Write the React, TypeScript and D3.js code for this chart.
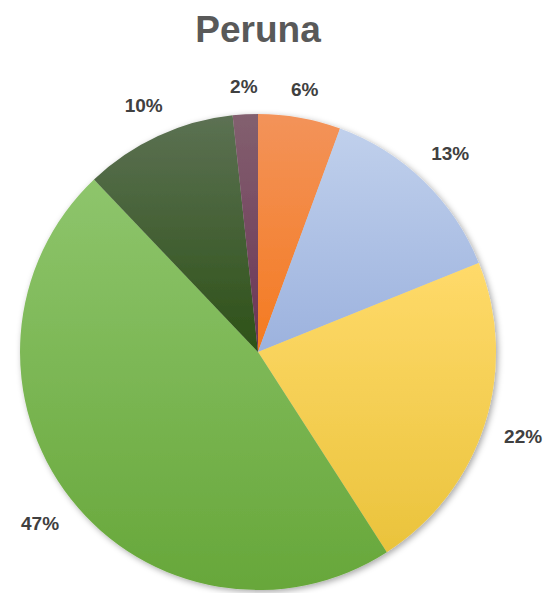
import React, { useEffect, useRef } from 'react';
import * as d3 from 'd3';

const title = 'Peruna';
const categories = ['A', 'B', 'C', 'D', 'E', 'F'];
const values = [5.6, 13.3, 22.0, 47.0, 10.4, 1.7];
const topColors = ['#F3935A', '#C0D0EC', '#FFDA6A', '#8EC56C', '#5C7153', '#83606F'];
const bottomColors = ['#F47A20', '#9CB2DE', '#EAC33C', '#67A73A', '#2D5117', '#6A3456'];

const App = () => {
  const svgRef = useRef<SVGSVGElement>(null);

  useEffect(() => {
    const width = 552;
    const height = 593;
    const cx = 258;
    const cy = 352;
    const r = 238;
    const fontSize = 19;

    const svg = d3.select(svgRef.current)
      .attr('width', width)
      .attr('height', height);
    svg.selectAll('*').remove();

    const defs = svg.append('defs');
    const filter = defs.append('filter')
      .attr('id', 'shadow')
      .attr('x', '-10%').attr('y', '-10%')
      .attr('width', '120%').attr('height', '120%');
    filter.append('feDropShadow')
      .attr('dx', 2).attr('dy', 2)
      .attr('stdDeviation', 3)
      .attr('flood-color', '#000')
      .attr('flood-opacity', 0.35);

    categories.forEach((c, i) => {
      const g = defs.append('linearGradient')
        .attr('id', `grad-${i}`)
        .attr('x1', 0).attr('y1', 0).attr('x2', 0).attr('y2', 1);
      g.append('stop').attr('offset', '0%').attr('stop-color', topColors[i]);
      g.append('stop').attr('offset', '100%').attr('stop-color', bottomColors[i]);
    });

    const pie = d3.pie<number>().sort(null).value(d => d);
    const arcs = pie(values);
    const arc = d3.arc<d3.PieArcDatum<number>>().innerRadius(0).outerRadius(r);

    svg.append('text')
      .attr('x', cx)
      .attr('y', 42)
      .attr('text-anchor', 'middle')
      .attr('font-family', 'Liberation Sans, Arial, sans-serif')
      .attr('font-weight', 'bold')
      .attr('font-size', 37)
      .attr('fill', '#595959')
      .text(title);

    const g = svg.append('g')
      .attr('transform', `translate(${cx},${cy})`);

    g.append('g')
      .attr('filter', 'url(#shadow)')
      .selectAll('path')
      .data(arcs)
      .join('path')
      .attr('d', arc)
      .attr('fill', (d, i) => `url(#grad-${i})`);

    const total = d3.sum(values);
    const labels = g.append('g')
      .attr('font-family', 'Liberation Sans, Arial, sans-serif')
      .attr('font-weight', 'bold')
      .attr('font-size', fontSize)
      .attr('fill', '#404040');

    arcs.forEach(d => {
      const txt = `${Math.round((d.data / total) * 100)}%`;
      const a = (d.startAngle + d.endAngle) / 2;
      const sx = Math.sin(a);
      const sy = -Math.cos(a);
      const t = labels.append('text')
        .attr('dy', '0.35em')
        .attr('text-anchor', 'middle')
        .text(txt);
      const w = (t.node() as SVGTextElement).getComputedTextLength();
      const h = fontSize * 0.72;
      const ext = Math.abs(sx) * w / 2 + Math.abs(sy) * h / 2;
      const rr = r + 20 + ext;
      t.attr('x', sx * rr).attr('y', sy * rr);
    });
  }, []);

  return (
    <svg
      ref={svgRef}
      style={{ position: 'absolute', left: 0, top: 0, display: 'block' }}
    ></svg>
  );
};

export default App;
